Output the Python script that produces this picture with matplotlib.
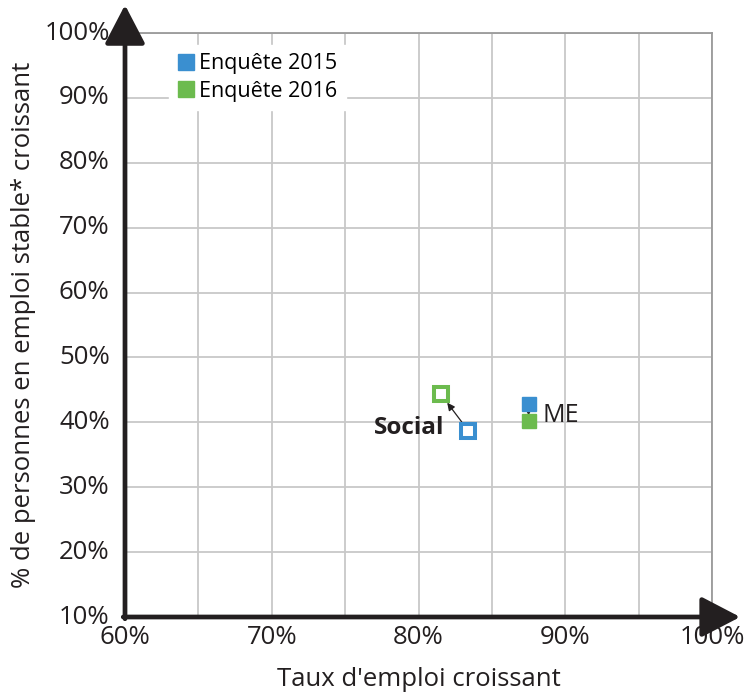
#!/usr/bin/env python3

import matplotlib
matplotlib.use("Agg")
import matplotlib.pyplot as plt
from matplotlib.ticker import FuncFormatter, MultipleLocator

plt.rcParams["font.family"] = ["Open Sans", "DejaVu Sans"]

BLUE = "#3a8fd0"
GREEN = "#6cbb4e"
INK = "#231f20"

# (taux d'emploi, % emploi stable), in percent
SOCIAL_2015 = (83.4, 38.7)
SOCIAL_2016 = (81.5, 44.4)
ME_2015 = (87.5, 42.8)
ME_2016 = (87.5, 40.2)

X_TICKS = [60, 70, 80, 90, 100]
Y_TICKS = [10, 20, 30, 40, 50, 60, 70, 80, 90, 100]

fig = plt.figure(figsize=(7.46, 6.93), dpi=100)
ax = fig.add_axes([125 / 746, 1 - 617 / 693, 587 / 746, 584 / 693])

ax.set_xlim(60, 100)
ax.set_ylim(10, 100)
ax.xaxis.set_minor_locator(MultipleLocator(5))
ax.set_xticks(X_TICKS)
ax.set_yticks(Y_TICKS)
pct = FuncFormatter(lambda v, _: f"{v:.0f}%")
ax.xaxis.set_major_formatter(pct)
ax.yaxis.set_major_formatter(pct)
ax.grid(True, which="both", axis="x", color="#c8c8c8", lw=1.3)
ax.grid(True, which="major", axis="y", color="#c8c8c8", lw=1.3)
ax.tick_params(which="both", length=0, labelsize=18.5, colors=INK)
ax.tick_params(axis="y", pad=11)
ax.tick_params(axis="x", pad=6)
for lab in ax.get_yticklabels():
    lab.set_va("center")

for side in ("top", "right"):
    ax.spines[side].set_color("#9a9a9a")
    ax.spines[side].set_linewidth(1.3)
for side in ("left", "bottom"):
    ax.spines[side].set_visible(False)

# axis arrows
arrow = dict(arrowstyle="-|>,head_length=2.4,head_width=1.25", color=INK,
             lw=3.4, shrinkA=0, shrinkB=0)
ax.annotate("", xy=(0, 1.048), xytext=(0, -0.003), xycoords="axes fraction",
            arrowprops=arrow, annotation_clip=False, zorder=5)
ax.annotate("", xy=(1.048, 0), xytext=(-0.003, 0), xycoords="axes fraction",
            arrowprops=arrow, annotation_clip=False, zorder=5)

# ME (filled)
ax.plot(*ME_2015, "s", ms=10.5, color=BLUE, zorder=4)
ax.plot(*ME_2016, "s", ms=10.5, color=GREEN, zorder=4)
ax.annotate("", xy=ME_2016, xytext=ME_2015,
            arrowprops=dict(arrowstyle="-|>,head_length=0.3,head_width=0.15",
                            color=INK, lw=0.8, shrinkA=4, shrinkB=4), zorder=3)

# Social (hollow)
ax.plot(*SOCIAL_2015, "s", ms=10.5, mfc="white", mec=BLUE, mew=2.9, zorder=4)
ax.plot(*SOCIAL_2016, "s", ms=10.5, mfc="white", mec=GREEN, mew=2.9, zorder=4)
ax.annotate("", xy=SOCIAL_2016, xytext=SOCIAL_2015,
            arrowprops=dict(arrowstyle="-|>,head_length=0.45,head_width=0.22",
                            color=INK, lw=0.9, shrinkA=8, shrinkB=8), zorder=3)

ax.annotate("ME", xy=ME_2015, xytext=(10, -8), textcoords="offset points",
            fontsize=18, color=INK, va="center", ha="left")
ax.annotate("Social", xy=SOCIAL_2015, xytext=(-17, 2), textcoords="offset points",
            fontsize=17.5, fontweight="bold", color=INK, va="center", ha="right")

# legend
h15, = ax.plot([], [], "s", ms=11, color=BLUE)
h16, = ax.plot([], [], "s", ms=11, color=GREEN)
leg = ax.legend([h15, h16], ["Enquête 2015", "Enquête 2016"], loc="upper left",
                bbox_to_anchor=(0.075, 0.98), fontsize=15.5, frameon=True, fancybox=False,
                handlelength=0.75, handletextpad=0.25, labelspacing=0.3,
                borderpad=0.4, borderaxespad=0)
leg.get_frame().set_edgecolor("white")
leg.get_frame().set_facecolor("white")
leg.get_frame().set_alpha(1)
leg.set_zorder(6)

ax.set_xlabel("Taux d'emploi croissant", fontsize=18.5, color=INK, labelpad=12)
ax.set_ylabel("% de personnes en emploi stable* croissant", fontsize=18.5,
              color=INK, labelpad=6)

fig.savefig("out.png", dpi=100)
